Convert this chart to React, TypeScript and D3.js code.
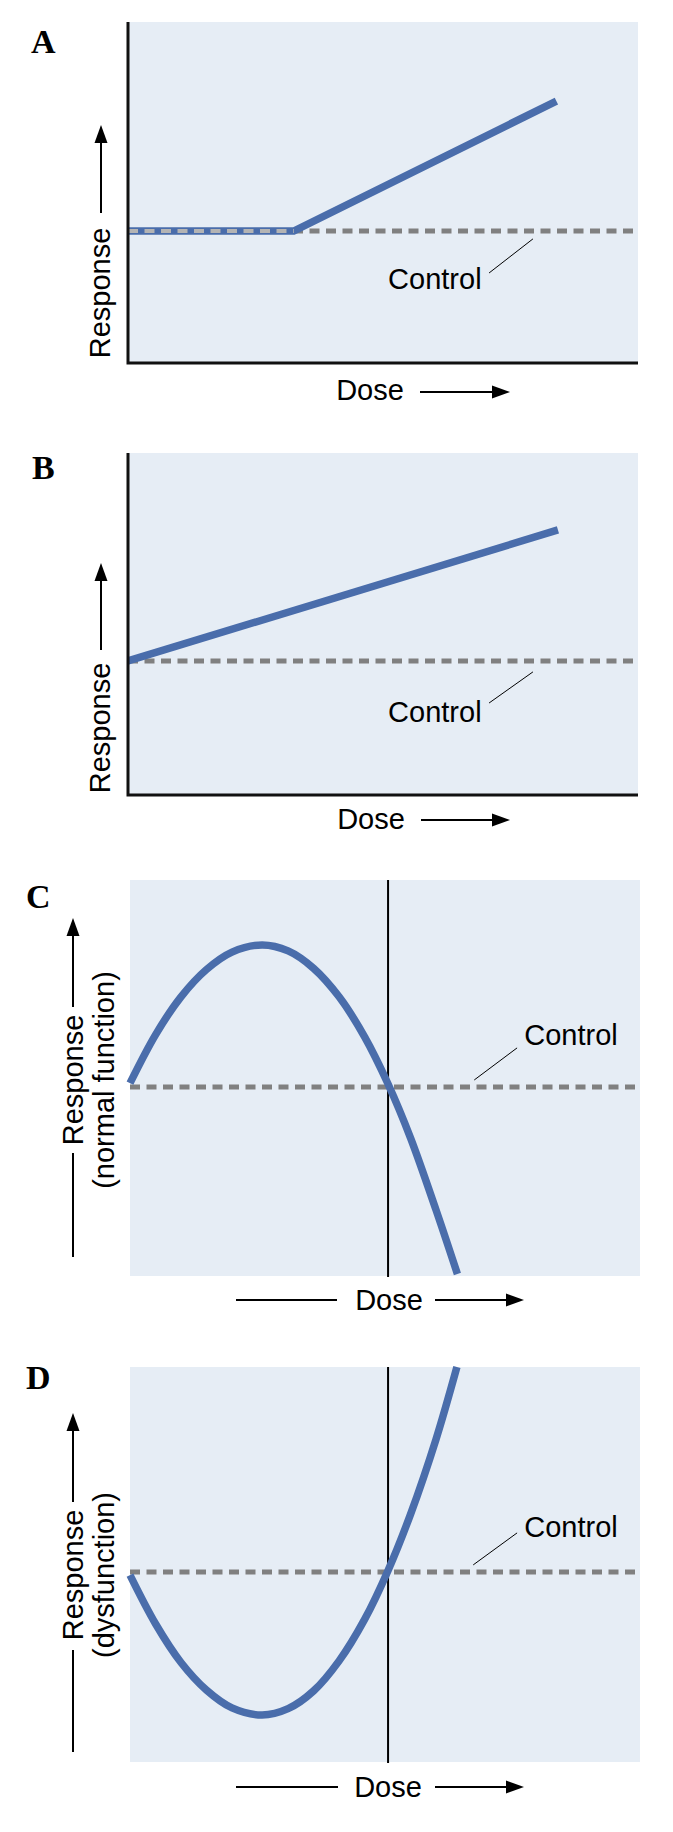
import React from 'react';
import * as d3 from 'd3';

// values, dose and response in 0-100 units
const panelLabels = ['A', 'B', 'C', 'D'];
const controlLevels = [38.7, 39.2, 47.7, 48.1];
const thresholdDose = [null, null, 50.6, 50.6];

const curveA = [
  { dose: 0, response: 38.7 },
  { dose: 32.5, response: 38.7 },
  { dose: 84, response: 76.8 },
];
const curveB = [
  { dose: 0, response: 39.2 },
  { dose: 84.3, response: 77.5 },
];
const curveC = [
  { dose: 0, response: 48.7 },
  { dose: 5, response: 60.9 },
  { dose: 10, response: 70.5 },
  { dose: 15, response: 77.4 },
  { dose: 20, response: 81.8 },
  { dose: 25.9, response: 83.6 },
  { dose: 31, response: 82.1 },
  { dose: 36, response: 77.7 },
  { dose: 41, response: 70.5 },
  { dose: 46, response: 60.4 },
  { dose: 50.6, response: 48.5 },
  { dose: 55, response: 34.9 },
  { dose: 60, response: 16.7 },
  { dose: 64.2, response: 0.5 },
];
const curveD = [
  { dose: 0, response: 47.3 },
  { dose: 5, response: 35 },
  { dose: 10, response: 25.2 },
  { dose: 15, response: 18.2 },
  { dose: 20, response: 13.7 },
  { dose: 25.9, response: 11.9 },
  { dose: 31, response: 13.5 },
  { dose: 36, response: 18 },
  { dose: 41, response: 25.6 },
  { dose: 46, response: 36.1 },
  { dose: 50.6, response: 48.5 },
  { dose: 55, response: 62.7 },
  { dose: 60, response: 81.7 },
  { dose: 64.1, response: 100 },
];
const curves = [curveA, curveB, curveC, curveD];

const yLabels = [['Response'], ['Response'], ['Response', '(normal function)'], ['Response', '(dysfunction)']];
const xLabel = 'Dose';
const controlLabel = 'Control';
// control annotation: text anchor and leader line, in dose/response units
const controlNotes = [
  { tx: 51, ty: 21.7, from: [70.8, 26.4], to: [79.4, 36.4] },
  { tx: 51, ty: 21.3, from: [70.8, 26.9], to: [79.4, 36] },
  { tx: 77.3, ty: 58.3, from: [75.9, 57.6], to: [67.5, 49.5] },
  { tx: 77.3, ty: 57, from: [75.9, 58], to: [67.3, 49.9] },
];

const BLUE = '#4a6dab';
const GRAY = '#808080';
const BG = '#e6edf5';
const SANS = '"Liberation Sans", Arial, sans-serif';
const FS = 29;

const layout = [
  { x: 128, y: 22, w: 510, h: 341, axes: true, lab: [31, 53],
    yl: { base: [110], cy: 293, ax: 101, segs: [[213, 125, true]] },
    xl: { cx: 370, dy: 37, ady: 29, left: null, right: [420, 510] } },
  { x: 128, y: 453, w: 510, h: 342, axes: true, lab: [32, 479],
    yl: { base: [110], cy: 728, ax: 101, segs: [[650, 563, true]] },
    xl: { cx: 371, dy: 34, ady: 25, left: null, right: [421, 510] } },
  { x: 130, y: 880, w: 510, h: 396, axes: false, lab: [26, 908],
    yl: { base: [83, 114], cy: 1080, ax: 73, segs: [[1257, 1153, false], [1007, 918, true]] },
    xl: { cx: 389, dy: 34, ady: 24, left: [236, 337], right: [435, 524] } },
  { x: 130, y: 1367, w: 510, h: 395, axes: false, lab: [26, 1389],
    yl: { base: [83, 114], cy: 1575, ax: 73, segs: [[1752, 1650, false], [1502, 1413, true]] },
    xl: { cx: 388, dy: 35, ady: 25, left: [236, 338], right: [435, 524] } },
];

function Arrow({ x1, y1, x2, y2 }) {
  const ang = Math.atan2(y2 - y1, x2 - x1);
  const L = 18, W = 6.5;
  const bx = x2 - L * Math.cos(ang), by = y2 - L * Math.sin(ang);
  const px = -Math.sin(ang) * W, py = Math.cos(ang) * W;
  return (
    <g>
      <line x1={x1} y1={y1} x2={bx} y2={by} stroke="#000" strokeWidth={2} />
      <path d={`M${x2},${y2}L${bx + px},${by + py}L${bx - px},${by - py}Z`} fill="#000" />
    </g>
  );
}

function Panel({ i }) {
  const p = layout[i];
  const x = d3.scaleLinear().domain([0, 100]).range([p.x, p.x + p.w]);
  const y = d3.scaleLinear().domain([0, 100]).range([p.y + p.h, p.y]);
  const line = d3.line()
    .x((d) => x(d.dose))
    .y((d) => y(d.response))
    .curve(i < 2 ? d3.curveLinear : d3.curveCatmullRom);
  const ctrl = controlLevels[i];
  const note = controlNotes[i];
  const bottom = p.y + p.h;
  const dash = '10 6.5';
  return (
    <g>
      <rect x={p.x} y={p.y} width={p.w} height={p.h} fill={BG} />
      <line x1={x(0)} x2={x(100)} y1={y(ctrl)} y2={y(ctrl)} stroke={GRAY} strokeWidth={5} strokeDasharray={dash} />
      {thresholdDose[i] != null && (
        <line x1={x(thresholdDose[i])} x2={x(thresholdDose[i])} y1={p.y} y2={bottom + 1} stroke="#000" strokeWidth={2} />
      )}
      <path d={line(curves[i])} fill="none" stroke={BLUE} strokeWidth={7.5} />
      {i === 0 && (
        <line x1={x(0)} x2={x(curveA[1].dose)} y1={y(ctrl)} y2={y(ctrl)} stroke="#b4b4b4" strokeWidth={4} strokeDasharray={dash} />
      )}
      {p.axes && (
        <path d={`M${p.x},${p.y}V${bottom}H${p.x + p.w}`} fill="none" stroke="#111" strokeWidth={3} />
      )}
      <line x1={x(note.from[0])} y1={y(note.from[1])} x2={x(note.to[0])} y2={y(note.to[1])} stroke="#000" strokeWidth={1} />
      <text x={x(note.tx)} y={y(note.ty)} fontFamily={SANS} fontSize={FS}>{controlLabel}</text>
      <text x={p.lab[0]} y={p.lab[1]} fontFamily='"Liberation Serif", serif' fontWeight="bold" fontSize={34}>{panelLabels[i]}</text>
      {yLabels[i].map((t, k) => (
        <text key={k} transform={`translate(${p.yl.base[k]},${p.yl.cy}) rotate(-90)`} textAnchor="middle" fontFamily={SANS} fontSize={FS}>{t}</text>
      ))}
      {p.yl.segs.map((s, k) => s[2]
        ? <Arrow key={k} x1={p.yl.ax} y1={s[0]} x2={p.yl.ax} y2={s[1]} />
        : <line key={k} x1={p.yl.ax} x2={p.yl.ax} y1={s[0]} y2={s[1]} stroke="#000" strokeWidth={2} />)}
      <text x={p.xl.cx} y={bottom + p.xl.dy} textAnchor="middle" fontFamily={SANS} fontSize={FS}>{xLabel}</text>
      {p.xl.left && (
        <line x1={p.xl.left[0]} x2={p.xl.left[1]} y1={bottom + p.xl.ady} y2={bottom + p.xl.ady} stroke="#000" strokeWidth={2} />
      )}
      <Arrow x1={p.xl.right[0]} y1={bottom + p.xl.ady} x2={p.xl.right[1]} y2={bottom + p.xl.ady} />
    </g>
  );
}

export default function App() {
  return (
    <svg width={673} height={1832} style={{ position: 'absolute', left: 0, top: 0, background: '#fff' }}>
      {panelLabels.map((_, i) => <Panel key={i} i={i} />)}
    </svg>
  );
}
